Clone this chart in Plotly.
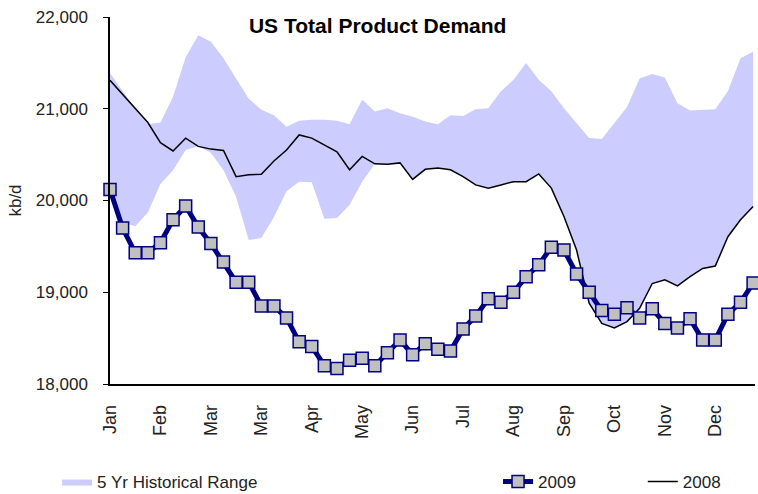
import plotly.graph_objects as go

# ---- data (weekly, kb/d) ----
weeks = list(range(1, 53))
tick_weeks = [1, 5, 9, 13, 17, 21, 25, 29, 33, 37, 41, 45, 49]
tick_labels = ["Jan", "Feb", "Mar", "Mar", "Apr", "May", "Jun", "Jul", "Aug", "Sep", "Oct", "Nov", "Dec"]

range_upper = [21390, 21190, 21000, 20830, 20850, 21130, 21560, 21800, 21730, 21550,
               21330, 21110, 20990, 20930, 20805, 20870, 20880, 20880, 20870, 20830,
               21100, 20970, 21005, 20950, 20914, 20860, 20830, 20930, 20920, 20995,
               21005, 21190, 21315, 21500, 21315, 21190, 21005, 20840, 20680, 20670,
               20840, 21020, 21330, 21380, 21340, 21060, 20980, 20990, 20995, 21190,
               21550, 21620]

range_lower = [20050, 19760, 19720, 19870, 20180, 20330, 20550, 20590, 20520, 20330,
               20040, 19570, 19590, 19820, 20100, 20205, 20200, 19800, 19810, 19950,
               20205, 20400, 20395, 20410, 20230, 20340, 20355, 20335, 20260, 20170,
               20135, 20170, 20205, 20205, 20290, 20135, 19825, 19460, 18880, 18660,
               18610, 18680, 18825, 19095, 19135, 19070, 19170, 19260, 19285, 19605,
               19790, 19935]

demand_2009 = [20120, 19700, 19430, 19430, 19540, 19790, 19940, 19710, 19530, 19330,
               19110, 19110, 18850, 18850, 18720, 18460, 18410, 18200, 18170, 18260,
               18280, 18200, 18340, 18480, 18320, 18440, 18380, 18360, 18600, 18740,
               18930, 18890, 19000, 19170, 19300, 19490, 19460, 19200, 19000, 18800,
               18760, 18830, 18720, 18820, 18660, 18610, 18710, 18480, 18480, 18760,
               18890, 19100]

demand_2008 = [21310, 21160, 21005, 20850, 20630, 20540, 20680, 20590, 20560, 20545,
               20260, 20280, 20285, 20430, 20550, 20715, 20680, 20605, 20530, 20335,
               20480, 20400, 20395, 20410, 20230, 20340, 20355, 20335, 20260, 20170,
               20135, 20170, 20205, 20205, 20290, 20135, 19825, 19460, 18880, 18660,
               18610, 18680, 18825, 19095, 19135, 19070, 19170, 19260, 19285, 19605,
               19790, 19935]

FONT = "Liberation Sans, Arial, sans-serif"
TXT = "#222222"

fig = go.Figure()

fig.add_trace(go.Scatter(
    x=weeks + weeks[::-1],
    y=range_upper + range_lower[::-1],
    fill="toself", fillcolor="#CCCCFF",
    line=dict(width=0, color="#CCCCFF"),
    mode="lines", name="5 Yr Historical Range",
    hoverinfo="skip", legend="legend",
))

fig.add_trace(go.Scatter(
    x=weeks, y=demand_2008, mode="lines", name="2008",
    line=dict(color="#000000", width=1.5),
    legend="legend3",
))

fig.add_trace(go.Scatter(
    x=weeks, y=demand_2009, mode="lines+markers", name="2009",
    line=dict(color="#000080", width=5),
    marker=dict(symbol="square", size=12, color="#C0C0C0",
                line=dict(color="#000080", width=1.5)),
    cliponaxis=False, legend="legend2",
))

leg_common = dict(orientation="h", yanchor="middle", y=-0.267, xanchor="left",
                  font=dict(family=FONT, size=17, color=TXT), bgcolor="rgba(0,0,0,0)",
                  borderwidth=0)

fig.update_layout(
    width=758, height=494,
    margin=dict(l=110, r=3, t=17, b=110, autoexpand=False),
    paper_bgcolor="white", plot_bgcolor="white",
    font=dict(family=FONT, size=17, color=TXT),
    title=dict(text="<b>US Total Product Demand</b>", font=dict(family=FONT, size=21, color="#000"),
               x=0.415, xref="paper", xanchor="center", y=1 - 26 / 494, yref="container",
               yanchor="middle"),
    showlegend=True,
    legend=dict(x=-0.082, **leg_common),
    legend2=dict(x=0.6016, **leg_common),
    legend3=dict(x=0.826, **leg_common),
    xaxis=dict(range=[1, 52.15], tickvals=tick_weeks, ticktext=tick_labels, tickangle=-90,
               showgrid=False, zeroline=False, showline=True, linecolor="#000", linewidth=1.5,
               ticks="", ticklabelstandoff=12, automargin=False,
               tickfont=dict(family=FONT, size=18, color=TXT)),
    yaxis=dict(range=[18000, 22000], dtick=1000, tickformat=",", showgrid=False, zeroline=False,
               showline=True, linecolor="#000", linewidth=1.5, ticks="outside", ticklen=5,
               tickcolor="#000", ticklabelstandoff=12, automargin=False,
               title=dict(text="kb/d", standoff=10, font=dict(family=FONT, size=17, color=TXT)),
               tickfont=dict(family=FONT, size=17, color=TXT)),
)

fig.write_html("out.html",
               config={"displayModeBar": False},
               post_script="document.body.style.margin='0px';document.body.style.overflow='hidden';")
